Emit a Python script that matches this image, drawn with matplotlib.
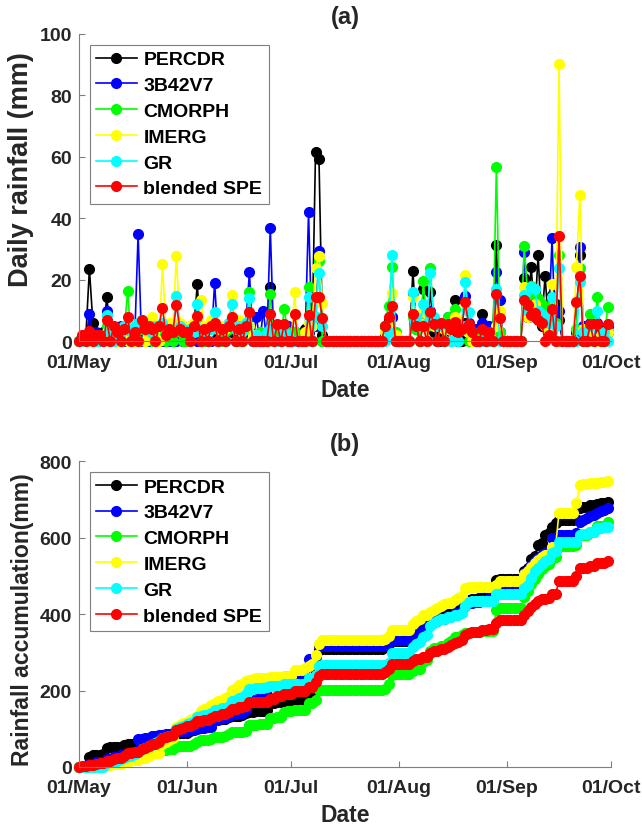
import numpy as np
import matplotlib
matplotlib.use('Agg')
import matplotlib.pyplot as plt
import matplotlib.dates as mdates

# daily rainfall (mm), 01/May - 30/Sep, one row per month
percdr = ([0, 0, 2, 23.6, 6, 0, 0, 3, 14.4, 4, 0, 0, 0, 5, 3, 0, 0, 2, 6, 3, 2, 0, 1, 5, 3, 0, 0, 0, 4, 3, 0] +
          [0, 3, 4, 18.5, 2, 0, 0, 4, 3, 0, 2, 0, 4, 3, 0, 0, 2, 5, 4, 0, 2, 0, 0, 3, 17.6, 0, 2, 0, 4, 3] +
          [0, 3, 0, 0, 4, 3, 0, 61.5, 59.3, 2, 0, 0, 0, 0, 0, 0, 0, 0, 0, 0, 0, 0, 0, 0, 0, 0, 0, 5, 7, 8, 0] +
          [0, 0, 0, 0, 23, 4, 0, 17, 5, 16, 3, 3, 0, 4, 5, 3, 13.3, 0, 0, 6, 5, 3, 0, 2, 8.9, 3, 0, 4, 31.4, 3, 0] +
          [0, 0, 0, 0, 0, 20.7, 8, 24.3, 8, 28.1, 5, 21.4, 5, 15, 12, 7, 0, 0, 0, 0, 3, 28, 4, 0, 3, 0, 5, 2, 0, 3])
b42v7 = ([0, 0, 0, 9, 0, 3, 0, 0, 10, 0, 4, 0, 5, 0, 4, 3, 0, 35, 0, 3, 0, 4, 0, 3, 0, 4, 0, 3, 0, 5, 0] +
         [0, 2, 3, 0, 3, 0, 2, 0, 19, 0, 3, 0, 6, 5, 0, 4, 0, 6, 22.5, 0, 8, 0, 10, 0, 37, 0, 4, 0, 3, 5] +
         [0, 3, 0, 0, 0, 42, 0, 5, 29.5, 0, 0, 0, 0, 0, 0, 0, 0, 0, 0, 0, 0, 0, 0, 0, 0, 0, 0, 2, 5, 8, 0] +
         [0, 0, 0, 0, 15, 8, 5, 6, 0, 10, 5, 0, 6, 0, 8, 0, 7, 0, 5, 14.9, 6, 0, 4, 0, 6, 0, 5, 0, 22.7, 13.6, 0] +
         [0, 0, 0, 0, 0, 29, 8, 12, 10, 8, 7, 6, 5, 33.5, 0, 10, 0, 0, 0, 0, 3, 30.8, 5, 4, 6, 3, 6, 3, 3, 5])
cmorph = ([0, 0, 0, 3, 0, 0, 0, 0, 5, 3, 0, 0, 0, 3, 16.5, 0, 0, 0, 4, 0, 3, 0, 0, 4, 3, 0, 3, 0, 5, 3, 0] +
          [0, 0, 5, 6, 3, 0, 0, 4, 5, 0, 0, 3, 4, 5, 0, 0, 0, 4, 16, 0, 0, 3, 0, 0, 15.4, 0, 3, 0, 10.6, 3] +
          [0, 3, 0, 0, 0, 17.7, 0, 8, 26, 0, 0, 0, 0, 0, 0, 0, 0, 0, 0, 0, 0, 0, 0, 0, 0, 0, 0, 5, 11.5, 24.3, 3] +
          [0, 0, 0, 0, 8, 4, 0, 19.6, 5, 24, 6, 0, 5, 0, 8, 6, 10.5, 0, 5, 5, 0, 3, 0, 0, 2, 0, 0, 0, 56.6, 3, 0] +
          [0, 0, 0, 0, 0, 31, 15, 18, 12, 14, 12, 10, 5, 12, 6, 28, 0, 0, 0, 0, 4, 24, 0, 0, 9, 0, 14.4, 0, 0, 11.3])
imerg = ([0, 0, 0, 0, 2, 0, 0, 0, 3, 0, 3, 0, 0, 5, 0, 4, 0, 0, 6, 0, 5, 8, 0, 0, 25.2, 4, 6, 5, 27.7, 6, 4] +
         [5, 4, 6, 4, 13.5, 5, 3, 7, 6, 4, 5, 4, 6, 15.2, 5, 7, 4, 6, 5, 2, 2, 0, 0, 0, 3, 0, 0, 0, 3, 0] +
         [0, 16.2, 0, 0, 3, 6, 5, 24, 27.7, 12.4, 0, 0, 0, 0, 0, 0, 0, 0, 0, 0, 0, 0, 0, 0, 0, 0, 0, 3, 6, 15.6, 2] +
         [0, 0, 0, 0, 14.3, 8, 6, 10, 0, 8, 5, 5, 6, 4, 4, 0, 8, 5, 4, 21.6, 3, 0, 0, 0, 0, 0, 0, 0, 5, 10, 0] +
         [0, 0, 0, 0, 0, 17.7, 8, 10, 12, 8, 6, 5, 3, 18.8, 0, 90.2, 0, 0, 0, 0, 24.2, 47.6, 4, 0, 3, 0, 0, 2, 0, 3])
gr = ([0, 0, 0, 1, 0, 0, 0, 0, 8.6, 3, 0, 4, 3, 5, 4, 0, 5, 6, 7, 4, 5, 3, 5, 5, 6, 3, 4, 3, 14.7, 5, 4] +
      [3, 4, 3, 12, 3, 3, 0, 4, 9.5, 0, 4, 0, 6, 12.3, 4, 5, 3, 6, 14, 0, 2, 0, 0, 3, 4, 0, 0, 0, 3, 2] +
      [0, 0, 0, 0, 0, 14.4, 0, 8, 22.3, 5, 0, 0, 0, 0, 0, 0, 0, 0, 0, 0, 0, 0, 0, 0, 0, 0, 0, 0, 3, 28.1, 0] +
      [0, 0, 0, 0, 16, 8, 5, 12, 6, 22.2, 8, 5, 6, 0, 5, 0, 6, 0, 5, 19.2, 9.5, 3, 0, 0, 0, 0, 0, 0, 17, 0, 0] +
      [0, 0, 0, 0, 0, 15, 10, 17.7, 17, 10, 9, 8, 6, 14.5, 5, 24, 0, 0, 0, 0, 0, 19.2, 3, 0, 5, 0, 10, 0, 3, 0])
blended = ([0, 2, 0, 3.5, 0, 2, 2, 0, 6.8, 0, 5, 3, 0, 4, 7.9, 0, 3, 0, 7.1, 4, 5, 4, 0, 5, 11, 2, 4, 3, 11.9, 4, 3] +
           [3, 0, 5, 8.4, 0, 4, 0, 5, 6, 0, 4, 0, 5, 8, 0, 4, 0, 5, 9.5, 0, 0, 0, 0, 0, 8.9, 0, 5.7, 0, 5.7, 0] +
           [0, 9, 0, 0, 0, 8.6, 0, 14.4, 14.4, 7.5, 0, 0, 0, 0, 0, 0, 0, 0, 0, 0, 0, 0, 0, 0, 0, 0, 0, 5, 8, 11.6, 0] +
           [0, 0, 0, 0, 9, 5, 0, 5, 0, 9.5, 5.7, 0, 6, 0, 5.7, 4, 6.3, 3, 4, 12.9, 5.7, 3, 0, 0, 4, 0, 3, 0, 15.4, 7.5, 0] +
           [0, 0, 0, 0, 0, 13.4, 11.8, 8.6, 9.2, 7, 6, 0, 2, 10.6, 0, 34.4, 0, 0, 0, 0, 12.9, 21.4, 0, 0, 5.7, 0, 5.7, 0, 0, 5.7])

names = ['PERCDR', '3B42V7', 'CMORPH', 'IMERG', 'GR', 'blended SPE']
series = [percdr, b42v7, cmorph, imerg, gr, blended]
colores = ['#000000', '#0000ff', '#00ff00', '#ffff00', '#00ffff', '#ff0000']

dias = np.arange(np.datetime64('2016-05-01'), np.datetime64('2016-10-01'))

plt.rcParams['font.family'] = ['Liberation Sans', 'DejaVu Sans']
plt.rcParams['font.weight'] = 'bold'
txt = '#262626'


def panel(ax, datos, ylabel, ylsize, ylpos, ymax, paso, titulo):
    for nombre, y, c in zip(names, datos, colores):
        ax.plot(dias, y, '-o', color=c, mfc=c, mec=c, ms=7, lw=1.2,
                label=nombre, clip_on=False)
    ax.set_xlim(np.datetime64('2016-05-01'), np.datetime64('2016-10-01'))
    ax.set_ylim(0, ymax)
    ax.set_yticks(np.arange(0, ymax + 1, paso))
    ax.xaxis.set_major_locator(mdates.MonthLocator())
    ax.xaxis.set_major_formatter(mdates.DateFormatter('%d/%b'))
    for s in ['top', 'right']:
        ax.spines[s].set_visible(False)
    for s in ['left', 'bottom']:
        ax.spines[s].set_color('#7f7f7f')
        ax.spines[s].set_linewidth(0.8)
    ax.tick_params(direction='in', length=4, width=0.8, color='#7f7f7f',
                   labelsize=14, labelcolor=txt)
    ax.tick_params(axis='x', pad=9)
    ax.tick_params(axis='y', pad=5)
    for t in ax.get_xticklabels() + ax.get_yticklabels():
        t.set_fontweight('bold')
    ax.set_xlabel('Date', fontsize=16.5, fontweight='bold', color=txt, labelpad=5)
    ax.set_ylabel(ylabel, fontsize=ylsize, fontweight='bold', color=txt)
    ax.yaxis.set_label_coords(-0.084, ylpos)
    ax.set_title(titulo, fontsize=17, fontweight='bold', color=txt, pad=8)
    leg = ax.legend(loc='upper left', bbox_to_anchor=(0.02, 0.965), borderaxespad=0,
                    fancybox=False, framealpha=1, edgecolor='#7f7f7f',
                    prop={'size': 14, 'weight': 'bold'}, handlelength=2.1,
                    handletextpad=0.35, labelspacing=0.42, borderpad=0.32)
    leg.get_frame().set_linewidth(0.8)
    for t in leg.get_texts():
        t.set_color('#000000')


fig = plt.figure(figsize=(6.42, 8.29), dpi=100)
ax1 = fig.add_axes([0.123, 0.587, 0.829, 0.371])
ax2 = fig.add_axes([0.123, 0.0736, 0.829, 0.369])

panel(ax1, series, 'Daily rainfall (mm)', 19.5, 0.561, 100, 20, '(a)')
acumulado = [np.cumsum(s) for s in series]
panel(ax2, acumulado, 'Rainfall accumulation(mm)', 16.6, 0.485, 800, 200, '(b)')

fig.savefig('out.png', dpi=100)
